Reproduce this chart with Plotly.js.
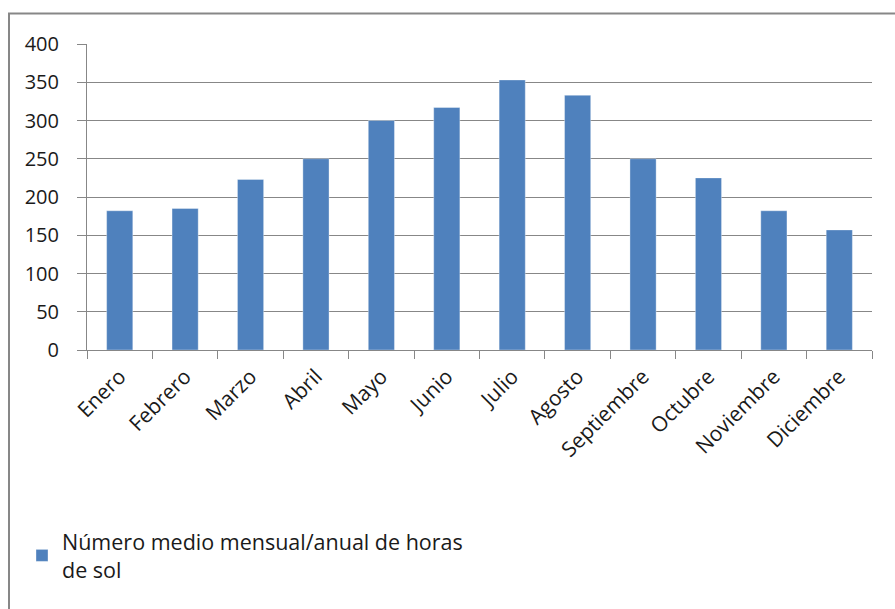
<!DOCTYPE html>
<html>
<head>
<meta charset="utf-8">
<script src="https://cdn.plot.ly/plotly-3.0.1.min.js"></script>
<style>
html,body{margin:0;padding:0;background:#fff;}
#chart{width:895px;height:609px;}
</style>
</head>
<body>
<div id="chart"></div>
<script>
const months = ["Enero","Febrero","Marzo","Abril","Mayo","Junio","Julio","Agosto","Septiembre","Octubre","Noviembre","Diciembre"];
const hours = [182, 185, 223, 250, 300, 317, 353, 333, 250, 225, 182, 157];
const seriesName = "Número medio mensual/anual de horas<br>de sol";

const W = 895, H = 609;
const mL = 87, mR = 23, mT = 43.5, mB = 258.5;
const pw = W - mL - mR, ph = H - mT - mB;
const px = v => (v - mL) / pw;
const py = v => (H - mB - v) / ph;

const trace = {
  type: "bar",
  x: months,
  y: hours,
  name: seriesName,
  marker: {color: "#4F81BD", line: {color: "rgba(255,255,255,0.35)", width: 1}},
  showlegend: true
};

const fam = "Open Sans, Noto Sans, sans-serif";
const yfont = {family: fam, size: 20, color: "#1a1a1a"};
const xfont = {family: fam, size: 21, color: "#1a1a1a"};

const layout = {
  width: W, height: H,
  margin: {l: mL, r: mR, t: mT, b: mB, pad: 0},
  paper_bgcolor: "#fff",
  plot_bgcolor: "#fff",
  font: yfont,
  bargap: 0.6,
  showlegend: true,
  legend: {
    x: px(22), y: py(522), xanchor: "left", yanchor: "top",
    font: {family: fam, size: 21.5, color: "#1a1a1a"},
    bgcolor: "rgba(0,0,0,0)", itemwidth: 30
  },
  xaxis: {
    type: "category",
    tickangle: -45,
    ticks: "outside", tickson: "boundaries", ticklen: 8, tickcolor: "#878787",
    ticklabelstandoff: 5,
    showline: true, linecolor: "#878787", linewidth: 1,
    showgrid: false, zeroline: false,
    tickfont: xfont
  },
  yaxis: {
    range: [0, 400], dtick: 50, tick0: 0,
    ticks: "outside", ticklen: 9, tickcolor: "#878787",
    ticklabelstandoff: 14,
    showline: true, linecolor: "#878787", linewidth: 1,
    showgrid: true, gridcolor: "#878787", gridwidth: 1,
    zeroline: false,
    tickfont: yfont
  },
  shapes: [{
    type: "rect", xref: "paper", yref: "paper",
    x0: px(9), x1: px(905), y0: py(620), y1: py(13),
    line: {color: "#878787", width: 2}, fillcolor: "rgba(0,0,0,0)", layer: "below"
  }]
};

Plotly.newPlot("chart", [trace], layout, {displayModeBar: false, staticPlot: true});
</script>
</body>
</html>
